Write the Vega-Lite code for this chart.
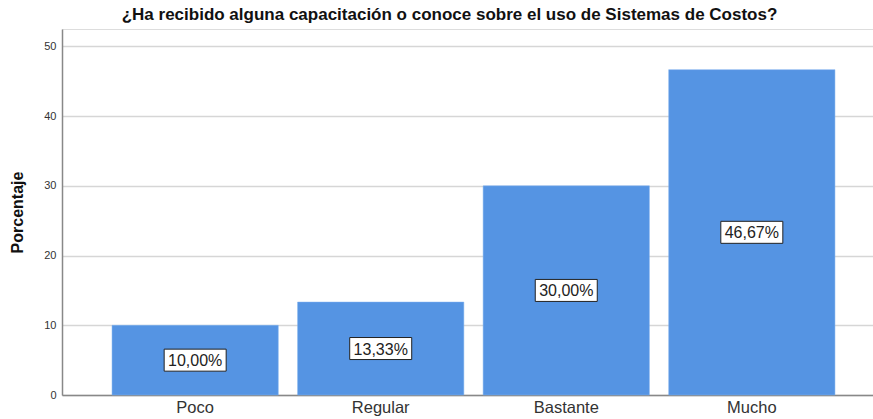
{
  "$schema": "https://vega.github.io/schema/vega-lite/v6.json",
  "autosize": {"type": "none"},
  "padding": {"left": 62, "top": 29, "right": 0, "bottom": 24},
  "width": 811,
  "height": 366,
  "background": "white",
  "title": {
    "text": "¿Ha recibido alguna capacitación o conoce sobre el uso de Sistemas de Costos?",
    "font": "Liberation Sans",
    "fontSize": 17,
    "fontWeight": "bold",
    "color": "#111111",
    "anchor": "middle",
    "dx": -18,
    "offset": 5
  },
  "data": {
    "values": [
      {"cat": "Poco", "pct": 10.0, "label": "10,00%"},
      {"cat": "Regular", "pct": 13.33, "label": "13,33%"},
      {"cat": "Bastante", "pct": 30.0, "label": "30,00%"},
      {"cat": "Mucho", "pct": 46.67, "label": "46,67%"}
    ]
  },
  "transform": [{"calculate": "datum.pct / 2", "as": "mid"}],
  "encoding": {
    "x": {
      "field": "cat",
      "type": "nominal",
      "sort": ["Poco", "Regular", "Bastante", "Mucho"],
      "scale": {"paddingInner": 0.104, "paddingOuter": 0.2374, "align": 0.568},
      "axis": {
        "title": null,
        "labelAngle": 0,
        "labelFont": "Liberation Sans",
        "labelFontSize": 16.5,
        "labelColor": "#333333",
        "labelPadding": 4,
        "ticks": false,
        "domainColor": "#888888",
        "domainWidth": 1.5,
        "grid": false
      }
    }
  },
  "layer": [
    {
      "mark": {"type": "bar", "color": "#5594E3", "stroke": "#7fb0ee", "strokeWidth": 0.5},
      "encoding": {
        "y": {
          "field": "pct",
          "type": "quantitative",
          "scale": {"domain": [0, 52.5], "nice": false},
          "axis": {
            "title": "Porcentaje",
            "titleFont": "Liberation Sans",
            "titleFontSize": 16,
            "titleFontWeight": "bold",
            "titleColor": "#111111",
            "titlePadding": 18,
            "values": [0, 10, 20, 30, 40, 50],
            "labelFont": "Liberation Sans",
            "labelFontSize": 11,
            "labelColor": "#333333",
            "labelPadding": 6,
            "ticks": false,
            "domainColor": "#888888",
            "domainWidth": 1.5,
            "grid": true,
            "gridColor": "#d6d6d6",
            "gridWidth": 1.5
          }
        }
      }
    },
    {
      "mark": {
        "type": "point",
        "shape": "M-1,-0.355H1V0.355H-1Z",
        "filled": true,
        "fill": "white",
        "stroke": "#222222",
        "strokeWidth": 1,
        "opacity": 1,
        "size": 3844
      },
      "encoding": {
        "y": {"field": "mid", "type": "quantitative"}
      }
    },
    {
      "mark": {
        "type": "text",
        "font": "Liberation Sans",
        "fontSize": 16,
        "color": "#222222",
        "baseline": "middle",
        "align": "center",
        "dy": 1
      },
      "encoding": {
        "y": {"field": "mid", "type": "quantitative"},
        "text": {"field": "label"}
      }
    }
  ]
}
